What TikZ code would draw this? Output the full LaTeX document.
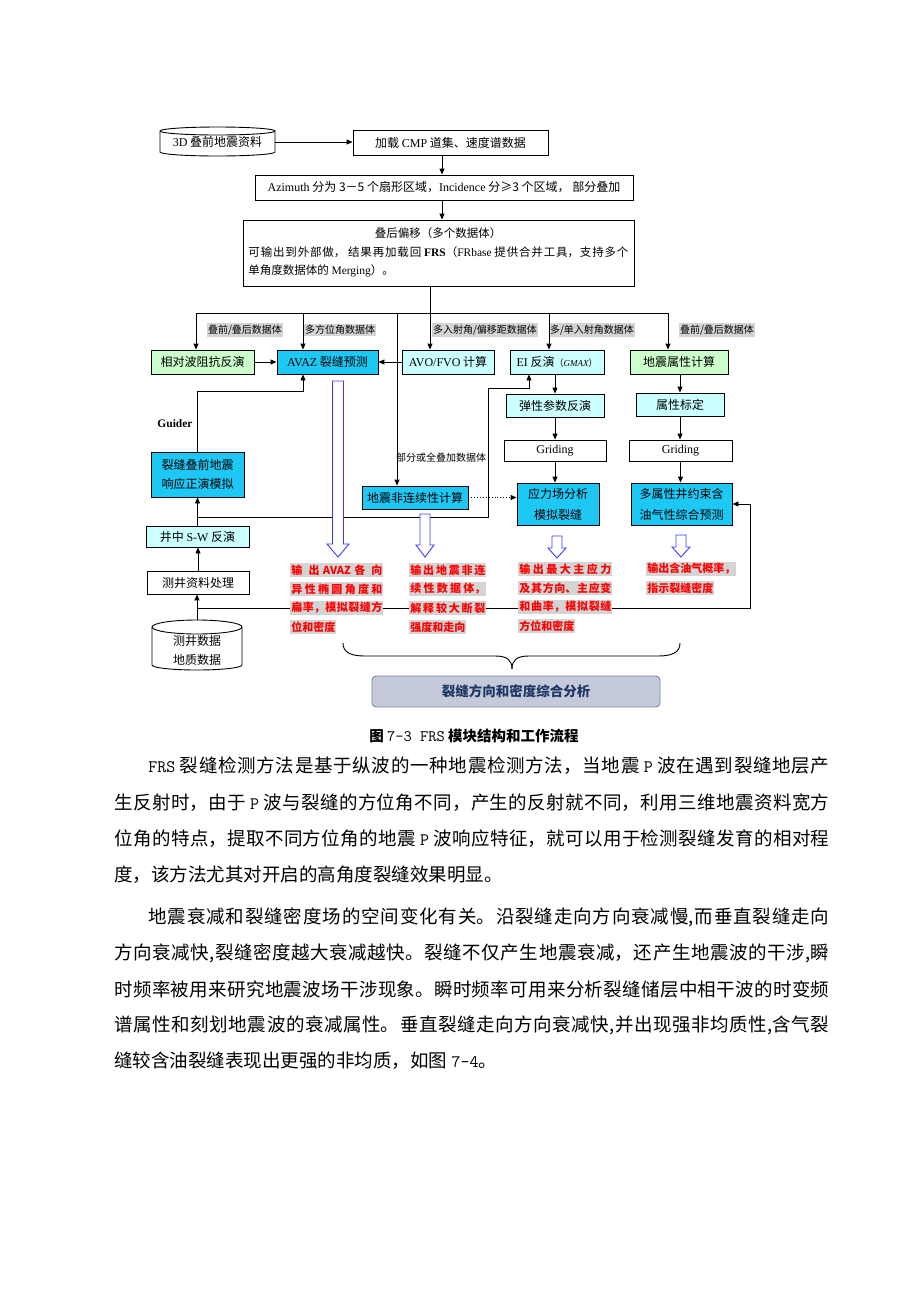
\documentclass[tikz,border=0pt]{standalone}
\usepackage{fontspec}
\setmainfont{Noto Sans CJK SC}
\newfontfamily\tm{Liberation Serif}
\usetikzlibrary{arrows.meta,shadows}
\newcommand\fs[1]{\fontsize{#1}{#1}\selectfont}
\newcommand\jbox[2]{\parbox{#1}{\tolerance=10000\hbadness=10000\parindent=0pt\parfillskip=0pt\XeTeXlinebreaklocale "zh"\XeTeXlinebreakskip=0pt plus 8pt #2}}
\newcommand\bl[1]{{\ttfamily\fontsize{17.5}{17.5}\selectfont #1}}
\newcommand\hollowarrow[6]{\draw[hblue, line width=0.9pt, fill=white] ({#1-#4},#2) -- ({#1-#4},{#3-#6}) -- ({#1-#5},{#3-#6}) -- (#1,#3) -- ({#1+#5},{#3-#6}) -- ({#1+#4},{#3-#6}) -- ({#1+#4},#2) -- cycle;}
\definecolor{cyb}{RGB}{30,200,245}
\definecolor{lcy}{RGB}{204,255,255}
\definecolor{lgr}{RGB}{204,255,204}
\definecolor{lblgray}{RGB}{212,212,212}
\definecolor{finfill}{RGB}{196,202,218}
\definecolor{finborder}{RGB}{120,135,165}
\definecolor{fintext}{RGB}{30,55,100}
\definecolor{hblue}{RGB}{60,60,255}
\definecolor{redt}{RGB}{255,0,0}
\begin{document}
\begin{tikzpicture}[x=1pt,y=-1pt,line width=0.9pt,
  box/.style={draw=black, line width=0.9pt, inner sep=0pt, align=center, font=\fs{12}},
  shd/.style={drop shadow={shadow xshift=1.2pt, shadow yshift=-1.2pt, fill=black!50, opacity=1}},
  arr/.style={-{Triangle[length=6pt,width=5pt]}, line width=0.9pt},
  lbl/.style={fill=lblgray, inner xsep=1pt, inner ysep=1.5pt, font=\fs{10}},
  redl/.style={fill=lblgray, inner xsep=1pt, inner ysep=1.5pt, anchor=west, text=redt, font=\fs{11}\bfseries},
  body/.style={anchor=west, inner sep=0pt, font=\fs{18.5}}]
\useasboundingbox (0,0) rectangle (920,1302);
\fill[white] (0,0) rectangle (920,1302);

% cylinders
\draw[fill=white] (160,131) -- (160,152) arc[start angle=180, end angle=0, x radius=57.5, y radius=4] -- (275,131) arc[start angle=0, end angle=-180, x radius=57.5, y radius=4] -- cycle;
\draw (160,131) arc[start angle=180, end angle=0, x radius=57.5, y radius=4];
\draw[fill=white] (152,627) -- (152,665) arc[start angle=180, end angle=0, x radius=45, y radius=5] -- (242,627) arc[start angle=0, end angle=-180, x radius=45, y radius=7] -- cycle;
\draw (152,627) arc[start angle=180, end angle=0, x radius=45, y radius=7];

% nodes
\node[box, draw=none, minimum width=115, minimum height=29] (d3) at (217.5,142) {{\tm 3D} 叠前地震资料};
\node[box, shd, fill=white, minimum width=195, minimum height=25] (cmp) at (450.5,142.5) {加载 {\tm CMP} 道集、速度谱数据};
\node[box, shd, fill=white, minimum width=378, minimum height=25] (azi) at (444,187.5) {{\tm Azimuth} 分为 3－5 个扇形区域，{\tm Incidence} 分≥3 个区域， 部分叠加};
\node[box, shd, fill=white, minimum width=391, minimum height=66] (mig) at (438.5,253) {};
\node[font=\fs{11.5}, inner sep=0pt] (migt) at (438,233) {叠后偏移（多个数据体）};
\node[anchor=west, inner sep=0pt, font=\fs{11.5}] (migl2) at (248,252) {\jbox{380pt}{可输出到外部做， 结果再加载回 {\tm\bfseries FRS}（{\tm FRbase} 提供合并工具，支持多个}};
\node[anchor=west, inner sep=0pt, font=\fs{11.5}] (migl3) at (248,271) {单角度数据体的 {\tm Merging}）。};

\node[box, shd, fill=lgr, minimum width=103, minimum height=24] (rel) at (202.5,362) {相对波阻抗反演};
\node[box, shd, fill=cyb, minimum width=101, minimum height=24] (avaz) at (327.5,362) {{\tm AVAZ} 裂缝预测};
\node[box, shd, fill=lcy, minimum width=92, minimum height=24] (avo) at (448,362) {{\tm AVO/FVO} 计算};
\node[box, shd, fill=lcy, minimum width=94, minimum height=24] (ei) at (557,362) {{\tm EI} 反演{\fs{9}（{\tm\itshape GMAX}）}};
\node[box, shd, fill=lgr, minimum width=98, minimum height=24] (attr) at (679,362) {地震属性计算};
\node[box, shd, fill=lcy, minimum width=98, minimum height=23] (el) at (555,405.5) {弹性参数反演};
\node[box, shd, fill=lcy, minimum width=88, minimum height=23] (cal) at (680,404.5) {属性标定};
\node[box, shd, fill=white, minimum width=102, minimum height=21] (grid1) at (555,450.5) {{\tm Griding}};
\node[box, shd, fill=white, minimum width=103, minimum height=21] (grid2) at (680.5,450.5) {{\tm Griding}};
\node[box, shd, fill=cyb, minimum width=82, minimum height=42, font=\fontsize{12}{21}\selectfont] (stress) at (558,504) {应力场分析\\模拟裂缝};
\node[box, shd, fill=cyb, minimum width=101, minimum height=42, font=\fontsize{12}{21}\selectfont] (multi) at (681.5,504) {多属性井约束含\\油气性综合预测};
\node[box, shd, fill=cyb, minimum width=106, minimum height=23] (disc) at (415,497.5) {地震非连续性计算};
\node[box, shd, fill=cyb, minimum width=93, minimum height=45, font=\fontsize{12}{19}\selectfont] (fwd) at (197.5,474.5) {裂缝叠前地震\\响应正演模拟};
\node[box, shd, fill=lcy, minimum width=103, minimum height=21] (sw) at (197.5,536.5) {井中 {\tm S-W} 反演};
\node[box, shd, fill=white, minimum width=102, minimum height=23] (wlp) at (198,582.5) {测井资料处理};
\node[box, draw=none, minimum width=90, minimum height=50] (wd) at (197,645) {};
\node[font=\fs{12}, inner sep=0pt] (wdt1) at (197,641) {测井数据};
\node[font=\fs{12}, inner sep=0pt] (wdt2) at (197,660) {地质数据};

% labels
\node[lbl] (l1) at (245,330) {叠前/叠后数据体};
\node[lbl] (l2) at (340,330) {多方位角数据体};
\node[lbl] (l3) at (485,330) {多入射角/偏移距数据体};
\node[lbl] (l4) at (592,330) {多/单入射角数据体};
\node[lbl] (l5) at (717,330) {叠前/叠后数据体};
\node[font=\fs{10}, inner sep=0pt] (l6) at (441,458) {部分或全叠加数据体};
\node[font=\fs{11.5}\tm\bfseries, inner sep=0pt] (guider) at (175,424) {Guider};

% coordinates
\coordinate (bL) at (196,313);
\coordinate (bAV) at (303,313);
\coordinate (bD) at (397,313);
\coordinate (bM) at (430,313);
\coordinate (bE) at (549,313);
\coordinate (bR) at (668,313);
\coordinate (cA) at (442,0);
\coordinate (g1) at (303,391);
\coordinate (k1) at (197.5,517);
\coordinate (k2) at (488,517);
\coordinate (k3) at (488,388);
\coordinate (k4) at (529,388);
\coordinate (r1) at (750,608);

% connectors
\draw[arr] (d3.east) -- (d3.east -| cmp.west);
\draw[arr] (cA |- cmp.south) -- (cA |- azi.north);
\draw[arr] (cA |- azi.south) -- (cA |- mig.north);
\draw (bL) -- (bR);
\draw[arr] (bL) -- (bL |- rel.north);
\draw[arr] (bAV) -- (bAV |- avaz.north);
\draw[arr] (bD) -- (bD |- disc.north);
\draw[arr] (bM |- mig.south) -- (bM |- avo.north);
\draw[arr] (bE) -- (bE |- ei.north);
\draw[arr] (bR) -- (bR |- attr.north);
\draw[arr] (rel.east) -- (avaz.west);
\draw[arr] (avo.west) -- (avaz.east);
\draw[arr] (fwd.north) |- (g1) -- (g1 |- avaz.south);
\draw[arr] (k1) -- (k2) -- (k3) -- (k4) -- (k4 |- ei.south);
\draw[arr] (sw.north) -- (sw.north |- fwd.south);
\draw[arr] (wlp.north) -- (wlp.north |- sw.south);
\draw[arr] (wd.north) -- (wd.north |- wlp.south);
\draw[arr] (r1 -| wd.north) -- (r1) |- (multi.east);
\draw[arr] (el.north |- ei.south) -- (el.north);
\draw[arr] (el.south) -- (el.south |- grid1.north);
\draw[arr] (grid1.south) -- (grid1.south |- stress.north);
\draw[arr] (cal.north |- attr.south) -- (cal.north);
\draw[arr] (cal.south) -- (cal.south |- grid2.north);
\draw[arr] (grid2.south) -- (grid2.south |- multi.north);
\draw[arr, dotted] (disc.east) -- (disc.east -| stress.west);

% hollow arrows
\hollowarrow{338}{381}{557}{5.5}{11}{13}
\hollowarrow{425}{514}{557}{5}{9}{12}
\hollowarrow{557}{536}{558}{5}{9}{10}
\hollowarrow{681}{535}{557}{5}{9}{10}

% red outputs
\node[redl] (r11) at (290,570) {\jbox{91pt}{输出 AVAZ 各向}};
\node[redl] (r12) at (290,589) {\jbox{91pt}{异性椭圆角度和}};
\node[redl] (r13) at (290,608) {\jbox{91pt}{扁率，模拟裂缝方}};
\node[redl] (r14) at (290,627) {位和密度};
\node[redl] (r21) at (409,570) {\jbox{75pt}{输出地震非连}};
\node[redl] (r22) at (409,589) {\jbox{75pt}{续性数据体，}};
\node[redl] (r23) at (409,608) {\jbox{75pt}{解释较大断裂}};
\node[redl] (r24) at (409,627) {强度和走向};
\node[redl] (r31) at (518,569) {\jbox{92pt}{输出最大主应力}};
\node[redl] (r32) at (518,588) {\jbox{92pt}{及其方向、主应变}};
\node[redl] (r33) at (518,607) {\jbox{92pt}{和曲率，模拟裂缝}};
\node[redl] (r34) at (518,626) {方位和密度};
\node[redl] (r41) at (646,569) {输出含油气概率，};
\node[redl] (r42) at (646,588) {指示裂缝密度};

% brace
\draw (343,643) .. controls (343,652) and (350,656) .. (365,656) -- (495,656) .. controls (507,656) and (512,660) .. (512,669);
\draw (680,643) .. controls (680,652) and (673,656) .. (658,656) -- (529,656) .. controls (517,656) and (512,660) .. (512,669);

\node[draw=finborder, fill=finfill, rounded corners=4pt, line width=0.9pt, minimum width=288, minimum height=31, font=\fs{13.5}\bfseries, text=fintext] (fin) at (516,691.5) {裂缝方向和密度综合分析};

% caption and body
\node[font=\fs{14.5}\bfseries, inner sep=0pt] (cap) at (474,736) {图 {\ttfamily\mdseries\fs{16}7-3 FRS} 模块结构和工作流程};
\node[body] (p1) at (148,766) {\jbox{681pt}{\bl{FRS} 裂缝检测方法是基于纵波的一种地震检测方法，当地震 \bl{P} 波在遇到裂缝地层产}};
\node[body] (p2) at (114,803) {\jbox{715pt}{生反射时，由于 \bl{P} 波与裂缝的方位角不同，产生的反射就不同，利用三维地震资料宽方}};
\node[body] (p3) at (114,839) {\jbox{715pt}{位角的特点，提取不同方位角的地震 \bl{P} 波响应特征，就可以用于检测裂缝发育的相对程}};
\node[body] (p4) at (114,875) {度，该方法尤其对开启的高角度裂缝效果明显。};
\node[body] (p5) at (148,917) {\jbox{681pt}{地震衰减和裂缝密度场的空间变化有关。沿裂缝走向方向衰减慢,而垂直裂缝走向}};
\node[body] (p6) at (114,953) {\jbox{715pt}{方向衰减快,裂缝密度越大衰减越快。裂缝不仅产生地震衰减，还产生地震波的干涉,瞬}};
\node[body] (p7) at (114,989) {\jbox{715pt}{时频率被用来研究地震波场干涉现象。瞬时频率可用来分析裂缝储层中相干波的时变频}};
\node[body] (p8) at (114,1025) {\jbox{715pt}{谱属性和刻划地震波的衰减属性。垂直裂缝走向方向衰减快,并出现强非均质性,含气裂}};
\node[body] (p9) at (114,1061) {缝较含油裂缝表现出更强的非均质，如图 \bl{7-4}。};
\end{tikzpicture}
\end{document}
